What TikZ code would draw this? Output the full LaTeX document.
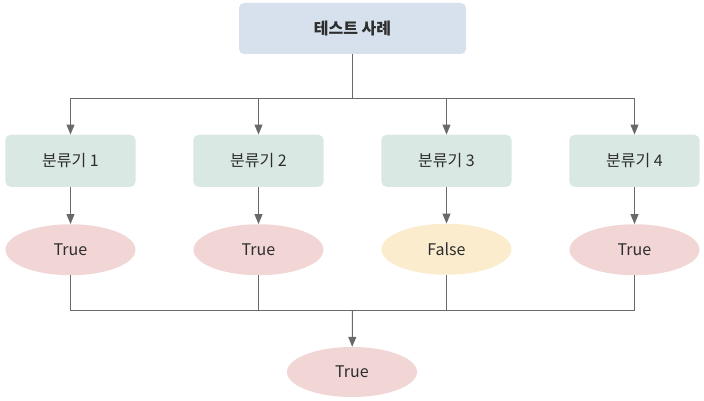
\documentclass[tikz,border=0pt]{standalone}
\usepackage{fontspec}
\setmainfont{Noto Sans CJK KR}
\usetikzlibrary{arrows.meta,shapes,matrix,positioning}

\definecolor{topfill}{RGB}{214,225,237}
\definecolor{clsfill}{RGB}{218,232,228}
\definecolor{truefill}{RGB}{242,213,213}
\definecolor{falsefill}{RGB}{250,236,205}
\definecolor{linegray}{RGB}{105,105,105}
\definecolor{textgray}{RGB}{45,45,45}

\begin{document}
\begin{tikzpicture}[x=1pt, y=-1pt,
font=\fontsize{16}{19}\selectfont, text=textgray,
box/.style={draw=none, rounded corners=5pt, minimum width=130pt, minimum height=52pt, inner sep=0pt},
result/.style={ellipse, draw=none, fill=truefill, minimum width=130pt, minimum height=51pt, inner sep=0pt},
arrow/.style={draw=linegray, line width=1pt, -{Triangle[width=8pt,length=10pt]}},
line/.style={draw=linegray, line width=1pt},
array/.style={
    matrix of nodes,
    column sep=58pt,
    row sep=37pt,
    row 1/.style={nodes={box, fill=clsfill}},
    row 2/.style={nodes={result}},
},
]
\useasboundingbox (0,0) rectangle (704,401);

\node[box, fill=topfill, minimum width=227pt, minimum height=51pt, font=\fontsize{16}{19}\selectfont\bfseries] (test) at (352.5,28.5) {테스트 사례};

\matrix[array] (cls) at (352.5,205) {
  분류기 1 & 분류기 2 & 분류기 3 & 분류기 4 \\
  True & True & |[fill=falsefill]|False & True \\
};

\node[result, minimum height=50pt] (vote) at (352,372) {True};

\coordinate (split) at (352.5,99);
\coordinate (join) at (352.5,310);

\draw[line] (test) -- (split);
\draw[arrow] (split) -| (cls-1-1.north);
\draw[arrow] (split) -| (cls-1-2.north);
\draw[arrow] (split) -| (cls-1-3.north);
\draw[arrow] (split) -| (cls-1-4.north);

\draw[arrow] (cls-1-1) -- (cls-2-1);
\draw[arrow] (cls-1-2) -- (cls-2-2);
\draw[arrow] (cls-1-3) -- (cls-2-3);
\draw[arrow] (cls-1-4) -- (cls-2-4);

\draw[line] (cls-2-1.south) |- (join);
\draw[line] (cls-2-2.south) |- (join);
\draw[line] (cls-2-3.south) |- (join);
\draw[line] (cls-2-4.south) |- (join);
\draw[arrow] (join) -- (vote);

\end{tikzpicture}
\end{document}
